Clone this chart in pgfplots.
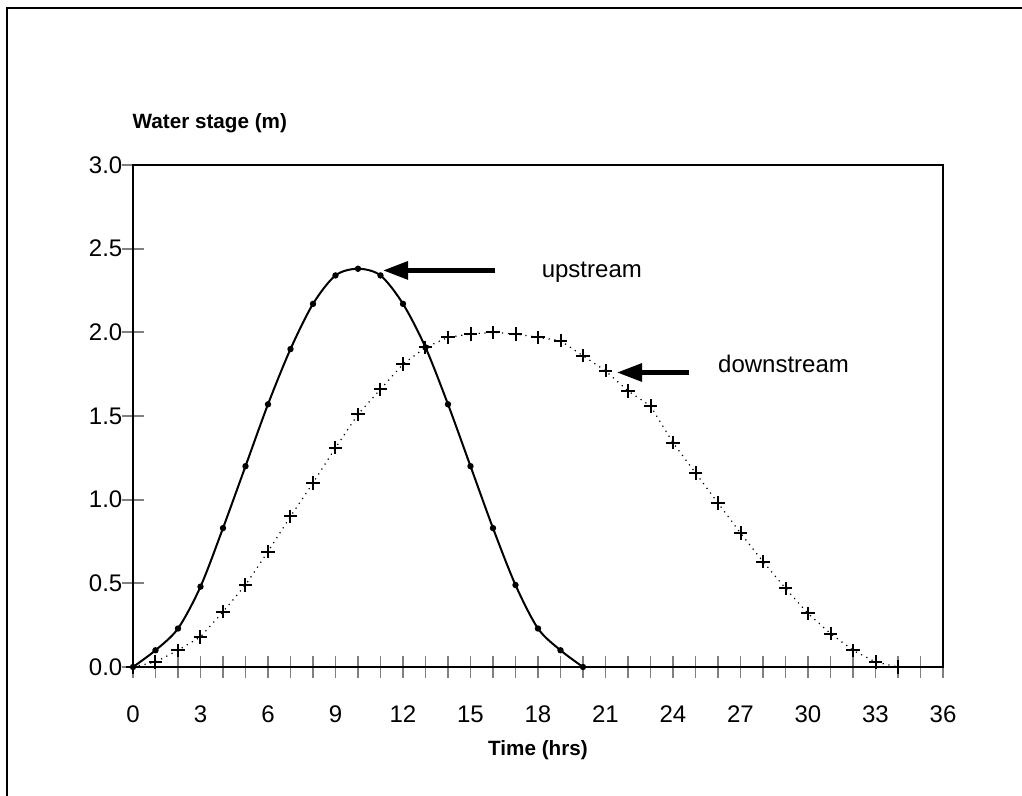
\documentclass[border=0pt]{standalone}
\usepackage{fontspec}
\setmainfont{Liberation Sans}
\usepackage{pgfplots}
\pgfplotsset{compat=1.18}
\usetikzlibrary{arrows.meta}

\begin{document}
\begin{tikzpicture}
\useasboundingbox (-99.75pt,-96.75pt) rectangle (666.75pt,500.25pt);
\draw[line width=2.2pt] (-94.5pt,-96.75pt) -- (-94.5pt,494.25pt) -- (666.75pt,494.25pt);
\begin{axis}[
  at={(0,0)}, anchor=south west,
  scale only axis, width=607.5pt, height=376.5pt,
  xmin=0, xmax=36, ymin=0, ymax=3,
  axis line style={line width=1.8pt},
  xtick={0,3,...,36}, minor x tick num=2,
  ytick={0,0.5,...,3},
  xtick pos=bottom, ytick pos=left,
  tick align=center,
  major tick length=16pt, minor tick length=16pt,
  xtick style={line width=1.3pt},
  ytick style={line width=1.3pt},
  xticklabel shift=17.5pt,
  yticklabel shift=-3.5pt,
  y tick label style={/pgf/number format/.cd, fixed, fixed zerofill, precision=1, /tikz/.cd},
  tick label style={font=\fontsize{18}{20}\selectfont},
  /pgf/number format/assume math mode=true,
  clip=false,
]
\addplot[black, line width=1.5pt, smooth, mark=*, mark size=1.6pt] coordinates {
(0,0) (1,0.1) (2,0.23) (3,0.48) (4,0.83) (5,1.2) (6,1.57) (7,1.9) (8,2.17) (9,2.34) (10,2.38)
(11,2.34) (12,2.17) (13,1.91) (14,1.57) (15,1.2) (16,0.83) (17,0.49) (18,0.23) (19,0.1) (20,0)
};
\addplot[black, line width=0.9pt, dash pattern=on 0.9pt off 3.5pt, mark=+, mark size=5pt, mark options={solid, line width=1.5pt}] coordinates {
(0,0) (1,0.03) (2,0.1) (3,0.18) (4,0.33) (5,0.49) (6,0.69) (7,0.9) (8,1.1) (9,1.31) (10,1.51)
(11,1.66) (12,1.81) (13,1.91) (14,1.97) (15,1.99) (16,2.0) (17,1.99) (18,1.97) (19,1.95) (20,1.86)
(21,1.77) (22,1.65) (23,1.56) (24,1.34) (25,1.16) (26,0.98) (27,0.80) (28,0.63) (29,0.47) (30,0.32)
(31,0.2) (32,0.1) (33,0.03) (34,0)
};
\draw[line width=3.8pt, -{Triangle[length=19pt,width=13pt]}] (axis cs:16.1,2.37) -- (axis cs:11.1,2.37);
\draw[line width=3.8pt, -{Triangle[length=19pt,width=13pt]}] (axis cs:24.7,1.76) -- (axis cs:21.5,1.76);
\node[anchor=west, font=\fontsize{18}{20}\selectfont] at (axis cs:17.96,2.36) {upstream};
\node[anchor=west, font=\fontsize{18}{20}\selectfont] at (axis cs:25.8,1.81) {downstream};
\node[anchor=west, font=\bfseries\fontsize{15.5}{18}\selectfont, xshift=-3.75pt, yshift=31.5pt] at (rel axis cs:0,1) {Water stage (m)};
\node[font=\bfseries\fontsize{15.5}{18}\selectfont, yshift=-62pt] at (rel axis cs:0.5,0) {Time (hrs)};
\end{axis}
\end{tikzpicture}
\end{document}
